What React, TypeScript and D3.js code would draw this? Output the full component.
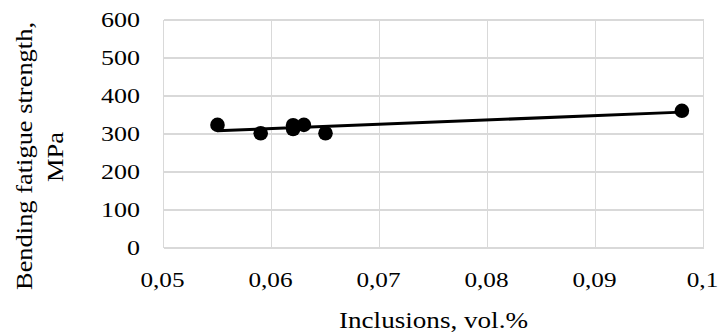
import React from "react";
import * as d3 from "d3";

const inclusions = [0.055, 0.059, 0.062, 0.062, 0.063, 0.065, 0.098];
const strength = [324, 302, 323, 313, 324, 302, 361];
const xTicks = [0.05, 0.06, 0.07, 0.08, 0.09, 0.1];
const yTicks = [0, 100, 200, 300, 400, 500, 600];
const xTickLabels = ["0,05", "0,06", "0,07", "0,08", "0,09", "0,1"];
const yTitleLines = ["Bending fatigue strength,", "MPa"];
const xTitle = "Inclusions, vol.%";

// approximate rendered width of a Times-like label
function labelWidth(s: string, digitW: number) {
  let w = 0;
  for (const c of s) w += c === "," || c === "." ? digitW / 2 : digitW;
  return w;
}

export default function App() {
  const W = 720, H = 335;
  const x = d3.scaleLinear().domain([0.05, 0.1]).range([163.5, 703.5]);
  const y = d3.scaleLinear().domain([0, 600]).range([248, 20]);

  const mx = d3.mean(inclusions)!;
  const my = d3.mean(strength)!;
  let sxy = 0, sxx = 0;
  inclusions.forEach((v, i) => {
    sxy += (v - mx) * (strength[i] - my);
    sxx += (v - mx) * (v - mx);
  });
  const slope = sxy / sxx;
  const icpt = my - slope * mx;
  const x0 = d3.min(inclusions)!, x1 = d3.max(inclusions)!;
  const line = d3.line<number>().x((d) => x(d)).y((d) => y(icpt + slope * d));

  const fontStyle = { fontFamily: '"Liberation Serif", "Times New Roman", serif' };

  return (
    <svg
      width={W}
      height={H}
      style={{ position: "absolute", left: 0, top: 0, display: "block", background: "#fff" }}
    >
      <g stroke="#d9d9d9" strokeWidth={1.3} shapeRendering="crispEdges">
        {yTicks.map((t) => (
          <line key={"gy" + t} x1={x(0.05)} x2={x(0.1)} y1={y(t)} y2={y(t)} />
        ))}
        {xTicks.map((t) => (
          <line key={"gx" + t} x1={x(t)} x2={x(t)} y1={y(0)} y2={y(600)} />
        ))}
      </g>
      <g style={fontStyle} fontSize={21} fill="#000">
        {yTicks.map((t) => (
          <text
            key={"yl" + t}
            x={140}
            y={y(t) + 7.2}
            textAnchor="end"
            textLength={labelWidth(String(t), 13)}
            lengthAdjust="spacingAndGlyphs"
          >
            {t}
          </text>
        ))}
        {xTicks.map((t, i) => (
          <text
            key={"xl" + t}
            x={x(t) - 1}
            y={287}
            textAnchor="middle"
            textLength={labelWidth(xTickLabels[i], 12.6)}
            lengthAdjust="spacingAndGlyphs"
          >
            {xTickLabels[i]}
          </text>
        ))}
      </g>
      <g style={fontStyle} fontSize={24} fill="#000">
        <text x={433.5} y={328} textAnchor="middle" textLength={189} lengthAdjust="spacingAndGlyphs">
          {xTitle}
        </text>
        <text transform="translate(31.5,156) rotate(-90)" textAnchor="middle" textLength={268} lengthAdjust="spacingAndGlyphs">
          {yTitleLines[0]}
        </text>
        <text transform="translate(63,157) rotate(-90)" textAnchor="middle" textLength={50} lengthAdjust="spacingAndGlyphs">
          {yTitleLines[1]}
        </text>
      </g>
      <path d={line([x0, x1]) || ""} stroke="#000" strokeWidth={3} fill="none" />
      <g fill="#000">
        {inclusions.map((v, i) => (
          <circle key={"p" + i} cx={x(v)} cy={y(strength[i])} r={7.3} />
        ))}
      </g>
    </svg>
  );
}
